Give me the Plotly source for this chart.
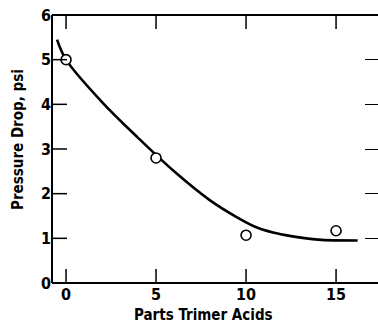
import plotly.graph_objects as go

# Measured points
pts_x = [0, 5, 10, 15]
pts_y = [5.0, 2.8, 1.07, 1.17]

# Smooth fitted curve
curve_x = [-0.5, 0, 2, 4, 6, 8, 9.5, 10.5, 11.5, 12.5, 14, 16.2]
curve_y = [5.45, 5.0, 4.05, 3.25, 2.5, 1.85, 1.47, 1.26, 1.13, 1.05, 0.97, 0.95]

x_ticks = [0, 5, 10, 15]
y_ticks = [0, 1, 2, 3, 4, 5, 6]
x_range = [-0.78, 17.33]
y_range = [0, 6]

FONT = "DejaVu Sans Condensed, Liberation Sans Narrow, sans-serif"

W, H = 378, 326
l, r, t, b = 52, 0, 15, 43
pw, ph = W - l - r, H - t - b

fig = go.Figure()
fig.add_trace(go.Scatter(x=curve_x, y=curve_y, mode="lines",
                         line=dict(color="black", width=2.6, shape="spline", smoothing=1.0),
                         hoverinfo="skip"))
fig.add_trace(go.Scatter(x=pts_x, y=pts_y, mode="markers",
                         marker=dict(symbol="circle", size=10, color="white",
                                     line=dict(color="black", width=1.6))))
fig.add_trace(go.Scatter(x=[None], y=[None], yaxis="y2"))

frame = dict(color="black", width=2)
shapes = [
    dict(type="line", xref="paper", yref="paper", x0=0, x1=0, y0=0, y1=1, line=frame),
    dict(type="line", xref="paper", yref="paper", x0=0, x1=1, y0=0, y1=0, line=frame),
    dict(type="line", xref="paper", yref="paper", x0=0, x1=1, y0=1, y1=1, line=frame),
]
tick_line = dict(color="black", width=1.5)
# inward ticks on bottom and top edges, placed at the x tick values
for v in x_ticks:
    shapes.append(dict(type="line", xref="x", x0=v, x1=v, yref="paper",
                       ysizemode="pixel", yanchor=0, y0=0, y1=14, line=tick_line))
    shapes.append(dict(type="line", xref="x", x0=v, x1=v, yref="paper",
                       ysizemode="pixel", yanchor=1, y0=0, y1=-14, line=tick_line))
# inward ticks on the left edge, placed at the y tick values
for v in y_ticks:
    shapes.append(dict(type="line", yref="y", y0=v, y1=v, xref="paper",
                       xsizemode="pixel", xanchor=0, x0=0, x1=15, line=tick_line))

fig.update_layout(
    template="none",
    width=W, height=H, showlegend=False,
    margin=dict(l=l, r=r, t=t, b=b),
    font=dict(family=FONT, color="black", size=16, weight="bold"),
    xaxis=dict(range=x_range, tickvals=x_ticks, ticks="", showline=False,
               showgrid=False, zeroline=False,
               tickfont=dict(size=16, family=FONT, weight="bold", color="black")),
    yaxis=dict(range=y_range, tickvals=y_ticks, ticks="", showline=False,
               showgrid=False, zeroline=False,
               tickfont=dict(size=16, family=FONT, weight="bold", color="black")),
    yaxis2=dict(range=y_range, tickvals=y_ticks, ticks="inside", ticklen=13,
                tickcolor="black", overlaying="y", side="right", showline=False,
                showticklabels=False, showgrid=False, zeroline=False),
    shapes=shapes,
    annotations=[
        dict(text="Parts Trimer Acids", x=(203 - l) / pw, y=(H - b - 326) / ph,
             xref="paper", yref="paper", showarrow=False, xanchor="center", yanchor="bottom",
             font=dict(size=15, family=FONT, weight="bold", color="black")),
        dict(text="Pressure Drop, psi", x=(18 - l) / pw, y=(H - b - 140) / ph,
             xref="paper", yref="paper", showarrow=False, textangle=-90,
             xanchor="center", yanchor="middle",
             font=dict(size=15, family=FONT, weight="bold", color="black")),
    ],
)

fig.write_html("out.html")
